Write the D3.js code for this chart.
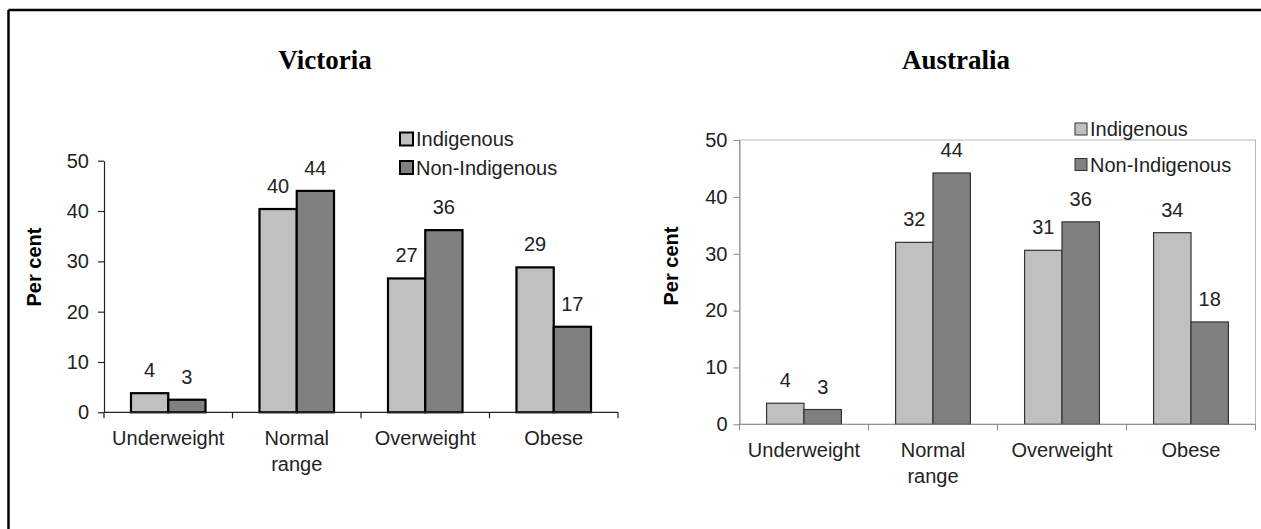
<!DOCTYPE html>
<html>
<head>
<meta charset="utf-8">
<script src="https://cdn.jsdelivr.net/npm/d3@7"></script>
<style>
  html, body { margin: 0; padding: 0; background: #fff; }
  svg { display: block; }
  text { font-family: "Liberation Sans", Arial, sans-serif; }
</style>
</head>
<body>
<svg id="chart" width="1261" height="529"></svg>
<script>
// ---- data ----
const categories = ["Underweight", "Normal range", "Overweight", "Obese"];
const seriesNames = ["Indigenous", "Non-Indigenous"];
const yTicks = [0, 10, 20, 30, 40, 50];

const vicTitle = "Victoria";
const vicIndigenous = [3.8, 40.4, 26.6, 28.8];
const vicNonIndigenous = [2.5, 44.0, 36.2, 17.0];
const vicIndigenousLabels = ["4", "40", "27", "29"];
const vicNonIndigenousLabels = ["3", "44", "36", "17"];

const ausTitle = "Australia";
const ausIndigenous = [3.7, 32.0, 30.6, 33.7];
const ausNonIndigenous = [2.6, 44.2, 35.6, 18.0];
const ausIndigenousLabels = ["4", "32", "31", "34"];
const ausNonIndigenousLabels = ["3", "44", "36", "18"];

const yAxisTitle = "Per cent";

// ---- drawing ----
const svg = d3.select("#chart");
const colors = d3.scaleOrdinal().domain(seriesNames).range(["#c0c0c0", "#808080"]);

// outer frame (top and left edges visible)
svg.append("line").attr("x1", 8.5).attr("x2", 1261).attr("y1", 10).attr("y2", 10)
  .attr("stroke", "#000").attr("stroke-width", 2.5);
svg.append("line").attr("x1", 8.5).attr("x2", 8.5).attr("y1", 10).attr("y2", 529)
  .attr("stroke", "#000").attr("stroke-width", 2.5);

function panel(cfg) {
  const g = svg.append("g");
  const x = d3.scaleBand().domain(categories).range([cfg.x0, cfg.x1]).padding(0);
  const inner = d3.scaleBand().domain(seriesNames)
    .range([x.bandwidth() * 0.21, x.bandwidth() * 0.79]).padding(0);
  const y = d3.scaleLinear().domain([0, 50]).range([cfg.yBottom, cfg.yTop]);

  // title
  g.append("text").attr("x", cfg.titleX).attr("y", 69).attr("text-anchor", "middle")
    .style("font-family", '"Liberation Serif", "DejaVu Serif", serif')
    .style("font-weight", "bold").style("font-size", "27px").attr("fill", "#000")
    .text(cfg.title);

  // plot border (right chart)
  if (cfg.plotBorder) {
    g.append("rect").attr("x", cfg.x0).attr("y", cfg.yTop)
      .attr("width", cfg.x1 - cfg.x0).attr("height", cfg.yBottom - cfg.yTop)
      .attr("fill", "none").attr("stroke", "#b8b8b8").attr("stroke-width", 1);
  }

  // y axis
  const yAxis = d3.axisLeft(y).tickValues(yTicks).tickSize(6).tickPadding(cfg.tickPad).tickSizeOuter(0);
  const ya = g.append("g").attr("transform", `translate(${cfg.x0},0)`).call(yAxis);
  ya.select(".domain").attr("stroke", cfg.axisColor).attr("stroke-width", cfg.axisWidth);
  ya.selectAll(".tick line").attr("stroke", cfg.axisColor).attr("stroke-width", cfg.axisWidth);
  ya.selectAll(".tick text").attr("fill", "#222").style("font-size", "20px")
    .style("font-family", '"Liberation Sans", Arial, sans-serif');

  // bars
  const vals = cfg.values;
  categories.forEach((c, i) => {
    seriesNames.forEach((s, j) => {
      const v = vals[j][i];
      const bx = x(c) + inner(s);
      g.append("rect").attr("x", bx).attr("y", y(v))
        .attr("width", inner.bandwidth()).attr("height", y(0) - y(v))
        .attr("fill", colors(s)).attr("stroke", cfg.barStroke).attr("stroke-width", cfg.barStrokeWidth);
      g.append("text").attr("x", bx + inner.bandwidth() / 2).attr("y", y(v) - 16)
        .attr("text-anchor", "middle").attr("fill", "#222").style("font-size", "20px")
        .text(cfg.labels[j][i]);
    });
  });

  // x axis line and boundary ticks
  g.append("line").attr("x1", cfg.x0).attr("x2", cfg.x1).attr("y1", y(0)).attr("y2", y(0))
    .attr("stroke", cfg.axisColor).attr("stroke-width", cfg.axisWidth);
  const bounds = categories.map(c => x(c)).concat([cfg.x1]);
  g.selectAll(null).data(bounds).enter().append("line")
    .attr("x1", d => d).attr("x2", d => d).attr("y1", y(0)).attr("y2", y(0) + 6)
    .attr("stroke", cfg.axisColor).attr("stroke-width", cfg.axisWidth);

  // category labels
  categories.forEach(c => {
    const lines = c.split(" ");
    const t = g.append("text").attr("x", x(c) + x.bandwidth() / 2).attr("y", y(0) + 33)
      .attr("text-anchor", "middle").attr("fill", "#222").style("font-size", "20px");
    lines.forEach((ln, k) => {
      t.append("tspan").attr("x", x(c) + x.bandwidth() / 2).attr("dy", k === 0 ? 0 : 26).text(ln);
    });
  });

  // y axis title
  g.append("text").attr("transform", `translate(${cfg.yTitleX},${cfg.yTitleY}) rotate(-90)`)
    .attr("text-anchor", "middle").attr("fill", "#000").style("font-weight", "bold")
    .style("font-size", "20px").text(yAxisTitle);

  // legend
  seriesNames.forEach((s, j) => {
    const cy = cfg.legendY[j];
    g.append("rect").attr("x", cfg.legendX).attr("y", cy - cfg.sq / 2)
      .attr("width", cfg.sq).attr("height", cfg.sq)
      .attr("fill", colors(s)).attr("stroke", cfg.barStroke).attr("stroke-width", cfg.legendStroke);
    g.append("text").attr("x", cfg.legendX + cfg.sq + 3).attr("y", cy + 7)
      .attr("fill", "#222").style("font-size", "20px").text(s);
  });
}

panel({
  title: vicTitle, titleX: 325,
  x0: 104, x1: 618, yTop: 160.7, yBottom: 412.3,
  values: [vicIndigenous, vicNonIndigenous],
  labels: [vicIndigenousLabels, vicNonIndigenousLabels],
  axisColor: "#222", axisWidth: 1.2, tickPad: 9,
  barStroke: "#000", barStrokeWidth: 2.2,
  yTitleX: 41, yTitleY: 267,
  legendX: 400, legendY: [139, 167.5], sq: 13, legendStroke: 2,
  plotBorder: false
});

panel({
  title: ausTitle, titleX: 956,
  x0: 739.5, x1: 1255.5, yTop: 140, yBottom: 424.3,
  values: [ausIndigenous, ausNonIndigenous],
  labels: [ausIndigenousLabels, ausNonIndigenousLabels],
  axisColor: "#888", axisWidth: 1, tickPad: 6,
  barStroke: "#333", barStrokeWidth: 1.2,
  yTitleX: 678, yTitleY: 266,
  legendX: 1075, legendY: [129, 164.5], sq: 12, legendStroke: 1,
  plotBorder: true
});
</script>
</body>
</html>
